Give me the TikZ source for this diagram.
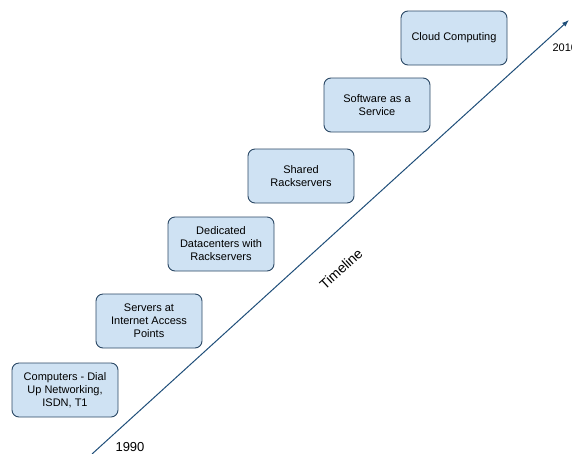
\documentclass[tikz,border=0pt]{standalone}
\usepackage{fontspec}
\usetikzlibrary{arrows.meta}
\setmainfont{Liberation Sans}
\begin{document}
\begin{tikzpicture}[x=1pt,y=-1pt,
  era/.style={draw=boxline, fill=boxfill, line width=0.9pt, rounded corners=7pt,
    minimum width=106pt, minimum height=54pt, align=center, inner sep=2pt,
    font=\fontsize{11}{13}\selectfont},
  lbl/.style={font=\fontsize{13}{15}\selectfont}]
\definecolor{boxfill}{HTML}{CFE2F3}
\definecolor{boxline}{HTML}{2B4865}
\definecolor{axis}{HTML}{1F4E79}
\useasboundingbox (0,0) rectangle (572,453);
\node[era] (n1) at (65,390) {Computers - Dial\\Up Networking,\\ISDN, T1};
\node[era] (n2) at (149,321) {Servers at\\Internet Access\\Points};
\node[era] (n3) at (221,244) {Dedicated\\Datacenters with\\Rackservers};
\node[era] (n4) at (301,176) {Shared\\Rackservers};
\node[era] (n5) at (377,105) {Software as a\\Service};
\node[era] (n6) at (454,38) {Cloud Computing};
\coordinate (start) at (92,454);
\coordinate (finish) at (569,20);
\draw[axis, line width=1pt, -{Latex[length=7pt,width=5pt]}] (start) -- (finish);
\node[lbl] (y1) at (130,447) {1990};
\node[font=\fontsize{11}{13}\selectfont, anchor=west] (y2) at (549,48) {2010};
\node[font=\fontsize{14}{16}\selectfont, rotate=42.3] (tl) at (341,269) {Timeline};
\end{tikzpicture}
\end{document}
